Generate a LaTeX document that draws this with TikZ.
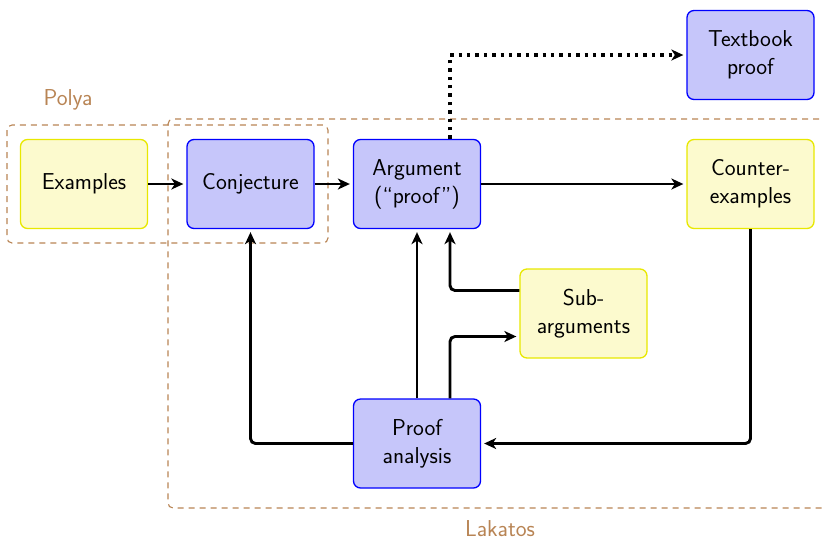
\documentclass[tikz,border=0pt]{standalone}
\usetikzlibrary{arrows.meta}
\definecolor{brn}{RGB}{184,132,84}
\definecolor{bfill}{RGB}{198,198,250}
\definecolor{yfill}{RGB}{252,250,206}
\definecolor{yline}{RGB}{232,232,0}
\tikzset{
  box/.style={rounded corners=7pt, minimum width=127pt, minimum height=89pt, align=center, line width=1.3pt, font=\sffamily\fontsize{23}{28}\selectfont, inner sep=0pt},
  bbox/.style={box, draw=blue, fill=bfill},
  ybox/.style={box, draw=yline, fill=yfill},
  conn/.style={line width=2.9pt, rounded corners=5pt, -{Stealth[length=12pt,width=11pt,inset=3.5pt]}, shorten >=3pt},
  grp/.style={draw=brn, line width=1.1pt, dash pattern=on 6pt off 5pt, rounded corners=5pt},
  grplabel/.style={text=brn, font=\sffamily\fontsize{23}{25}\selectfont}
}
\begin{document}
\begin{tikzpicture}[x=1pt,y=-1pt]
\useasboundingbox (0,0) rectangle (824,542);
\draw[grp] (7,125) rectangle (328,243);
\draw[grp] (830,119) -- (168,119) -- (168,508) -- (830,508);
\node[grplabel] (polya) at (68,100) {Polya};
\node[grplabel] (lakatos) at (500,529) {Lakatos};
\node[ybox] (ex) at (84,184) {Examples};
\node[bbox] (conj) at (250.5,184) {Conjecture};
\node[bbox] (arg) at (417,184) {Argument\\(``proof'')};
\node[bbox] (tb) at (750.5,55) {Textbook\\proof};
\node[ybox] (ce) at (750.5,184) {Counter-\\examples};
\node[ybox] (sub) at (583.5,313.5) {Sub-\\arguments};
\node[bbox] (pa) at (417,443.5) {Proof\\analysis};
\coordinate (argr) at ([xshift=33pt]arg.south);
\coordinate (par) at ([xshift=33pt]pa.north);
\draw[conn, line width=3.4pt, rounded corners=0pt, dash pattern=on 3.4pt off 5pt] ([xshift=33pt]arg.north) |- (tb.west);
\draw[conn] (ex) -- (conj);
\draw[conn] (conj) -- (arg);
\draw[conn] (arg) -- (ce);
\draw[conn] (ce.south) |- (pa.east);
\draw[conn] (pa.west) -| (conj.south);
\draw[conn] (pa.north) -- (arg.south);
\draw[conn] (par) |- ([yshift=-23pt]sub.west);
\draw[conn] ([yshift=23pt]sub.west) -| (argr);
\end{tikzpicture}
\end{document}
